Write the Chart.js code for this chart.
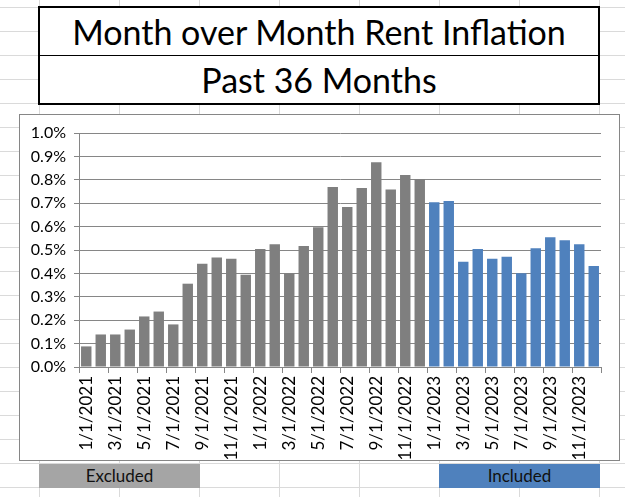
<!DOCTYPE html>
<html>
<head>
<meta charset="utf-8">
<script src="https://cdn.jsdelivr.net/npm/chart.js@4"></script>
<style>
  html, body { margin: 0; padding: 0; }
  body {
    width: 625px; height: 497px; position: relative; overflow: hidden;
    background-color: #fff;
    background-image:
      linear-gradient(to right, #dadada 1px, transparent 1px),
      linear-gradient(to bottom, #dadada 1px, transparent 1px);
    background-size: 80px 24px;
    background-position: 39px 7px;
    font-family: Lato, "Open Sans", sans-serif;
  }
  #titleBox {
    position: absolute; left: 38px; top: 6px; width: 562px; height: 99px;
    box-sizing: border-box; border: 2px solid #000; background: #fff;
  }
  #titleBox div {
    height: 47px; line-height: 47px; text-align: center; font-size: 34px; color: #000;
  }
  #titleBox .row2 { border-top: 1px solid #000; }
  #frame {
    position: absolute; left: 19px; top: 114px; width: 601px; height: 347px;
    box-sizing: border-box; border: 1px solid #868686; background: #fff;
  }
  .tag {
    position: absolute; top: 464px; width: 161px; height: 24px; line-height: 24px;
    text-align: center; font-size: 17px; color: #111;
  }
</style>
</head>
<body>
<div id="titleBox">
  <div>Month over Month Rent Inflation</div>
  <div class="row2">Past 36 Months</div>
</div>
<div id="frame"><canvas id="myChart" width="599" height="345"></canvas></div>
<div class="tag" style="left:39px;background:#a5a5a5;">Excluded</div>
<div class="tag" style="left:439px;background:#4f81bd;">Included</div>
<script>
// month over month rent inflation, percent
var months = [
  "1/1/2021", "2/1/2021", "3/1/2021", "4/1/2021", "5/1/2021", "6/1/2021",
  "7/1/2021", "8/1/2021", "9/1/2021", "10/1/2021", "11/1/2021", "12/1/2021",
  "1/1/2022", "2/1/2022", "3/1/2022", "4/1/2022", "5/1/2022", "6/1/2022",
  "7/1/2022", "8/1/2022", "9/1/2022", "10/1/2022", "11/1/2022", "12/1/2022",
  "1/1/2023", "2/1/2023", "3/1/2023", "4/1/2023", "5/1/2023", "6/1/2023",
  "7/1/2023", "8/1/2023", "9/1/2023", "10/1/2023", "11/1/2023", "12/1/2023"
];
var excluded = [0.088, 0.139, 0.139, 0.160, 0.216, 0.237, 0.182, 0.356, 0.441, 0.468, 0.463, 0.394,
                0.504, 0.525, 0.401, 0.517, 0.597, 0.769, 0.684, 0.765, 0.875, 0.759, 0.820, 0.803];
var included = [0.704, 0.709, 0.450, 0.504, 0.463, 0.471, 0.401, 0.508, 0.555, 0.542, 0.525, 0.432];
var yTicks = [0, 0.1, 0.2, 0.3, 0.4, 0.5, 0.6, 0.7, 0.8, 0.9, 1.0];

var grey = '#7f7f7f';
var blue = '#4f81bd';
var lineGrey = '#868686';

var values = excluded.concat(included);
var colors = values.map(function(v, i){ return i < excluded.length ? grey : blue; });

var ctx = document.getElementById('myChart').getContext('2d');
var chart = new Chart(ctx, {
  type: 'bar',
  data: {
    labels: months,
    datasets: [{
      data: values,
      backgroundColor: colors,
      borderWidth: 0,
      categoryPercentage: 1,
      barPercentage: 0.72
    }]
  },
  options: {
    responsive: false,
    animation: false,
    layout: { padding: { top: 18, right: 18, bottom: 0, left: 0 } },
    plugins: { legend: { display: false }, tooltip: { enabled: false } },
    scales: {
      x: {
        offset: true,
        afterFit: function(s){ s.height = 93; },
        border: { color: lineGrey },
        grid: {
          offset: true,
          drawOnChartArea: false,
          tickLength: 6,
          color: function(c){ return (c.index === undefined || c.index % 2 === 0) ? lineGrey : 'transparent'; }
        },
        ticks: {
          autoSkip: false,
          minRotation: 90,
          maxRotation: 90,
          padding: 3,
          color: '#000',
          font: { family: 'Lato', size: 17 },
          callback: function(v, i){ return i % 2 === 0 ? months[i] : ''; }
        }
      },
      y: {
        min: 0,
        max: 1.0,
        afterFit: function(s){ s.width = 59; },
        afterBuildTicks: function(s){ s.ticks = yTicks.map(function(v){ return { value: v }; }); },
        border: { color: lineGrey },
        grid: { color: lineGrey, tickLength: 5 },
        ticks: {
          padding: 8,
          color: '#000',
          font: { family: 'Lato', size: 16 },
          callback: function(v){ return v.toFixed(1) + '%'; }
        }
      }
    }
  }
});
</script>
</body>
</html>
